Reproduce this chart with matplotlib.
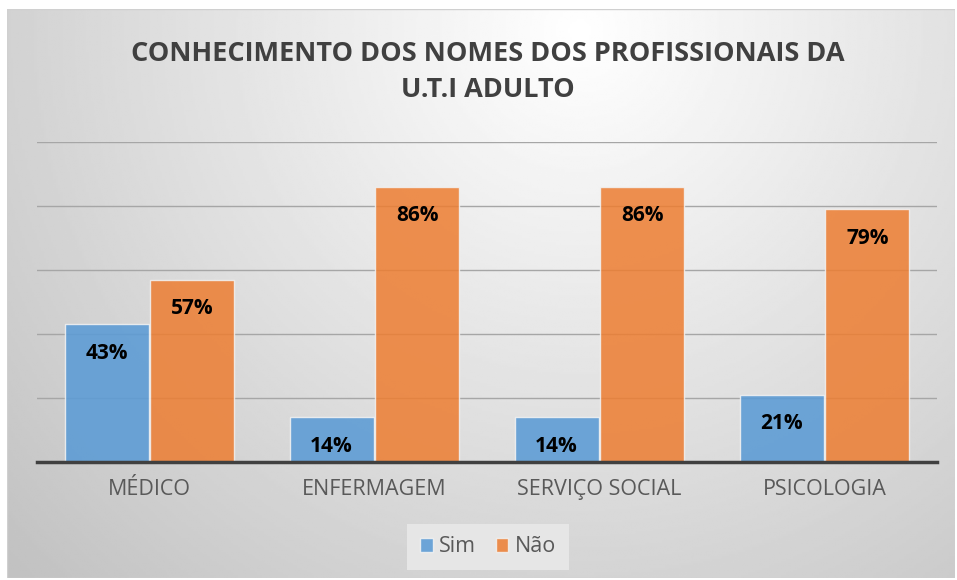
import numpy as np
import matplotlib.pyplot as plt
from matplotlib.patches import Rectangle

# dados
categorias = ['MÉDICO', 'ENFERMAGEM', 'SERVIÇO SOCIAL', 'PSICOLOGIA']
sim = [43, 14, 14, 21]
nao = [57, 86, 86, 79]
series = ['Sim', 'Não']
titulo = 'CONHECIMENTO DOS NOMES DOS PROFISSIONAIS DA\nU.T.I ADULTO'

plt.rcParams['font.family'] = ['Open Sans', 'DejaVu Sans']

W, H = 957, 580
fig = plt.figure(figsize=(W / 100, H / 100), dpi=100)
fig.patch.set_facecolor('white')

# fundo com gradiente radial (estilo Excel)
bg = fig.add_axes([7 / W, 2 / H, 948 / W, 569 / H])
xx, yy = np.meshgrid(np.linspace(7, 955, 400), np.linspace(9, 578, 250))
d = np.sqrt((xx - 580) ** 2 + (yy - 30) ** 2)
val = np.clip(1.0 - 0.20 * d / 650, 0.76, 1.0)
bg.imshow(val, cmap='gray', vmin=0, vmax=1, aspect='auto',
          extent=[0, 1, 0, 1], origin='upper')
bg.set_xlim(0, 1)
bg.set_ylim(0, 1)
bg.axis('off')
bg.add_patch(Rectangle((0, 0), 1, 1, transform=bg.transAxes, fill=False,
                       edgecolor='#d0d0d0', lw=1))

# area do grafico
ax = fig.add_axes([37 / W, (H - 462) / H, 900 / W, 320 / H])
ax.set_facecolor('none')

x = np.arange(len(categorias))
larg = 0.373
b1 = ax.bar(x - larg / 2 - 0.004, sim, larg, color='#5B9BD5', alpha=0.88,
            edgecolor='#f2f2f2', linewidth=1, label=series[0], zorder=3)
b2 = ax.bar(x + larg / 2 + 0.004, nao, larg, color='#ED7D31', alpha=0.85,
            edgecolor='#f2f2f2', linewidth=1, label=series[1], zorder=3)

for barras in (b1, b2):
    for b in barras:
        h = b.get_height()
        ax.annotate(f'{h:.0f}%', (b.get_x() + b.get_width() / 2, h),
                    xytext=(0, -29), textcoords='offset pixels',
                    ha='center', va='center', fontsize=15, fontweight='bold',
                    color='black', zorder=4)

ax.set_xlim(-0.5, 3.5)
ax.set_ylim(0, 100)
ax.set_yticks([20, 40, 60, 80, 100])
ax.yaxis.grid(True, color='#a6a6a6', linewidth=1, zorder=0)
ax.tick_params(axis='y', left=False, labelleft=False)
ax.set_xticks(x)
ax.set_xticklabels(categorias, fontsize=15.5, color='#595959')
ax.tick_params(axis='x', length=0, pad=12)
for s in ['top', 'right', 'left']:
    ax.spines[s].set_visible(False)
ax.spines['bottom'].set_color('#404040')
ax.spines['bottom'].set_linewidth(2.5)
ax.spines['bottom'].set_zorder(5)

fig.text(488 / W, 1 - 72 / H, titulo, ha='center', va='center',
         fontsize=19.5, fontweight='bold', color='#404040', linespacing=1.5)

leg = fig.legend(loc='center', bbox_to_anchor=(488 / W, 1 - 547 / H),
                 ncol=2, frameon=True, fontsize=15.5, handlelength=0.6,
                 handleheight=0.6, handletextpad=0.3, columnspacing=0.9,
                 borderpad=0.6, fancybox=False)
leg.get_frame().set_facecolor('#e6e6e6')
leg.get_frame().set_edgecolor('none')
leg.get_frame().set_alpha(1)
for t in leg.get_texts():
    t.set_color('#595959')

fig.savefig('out.png', dpi=100)
